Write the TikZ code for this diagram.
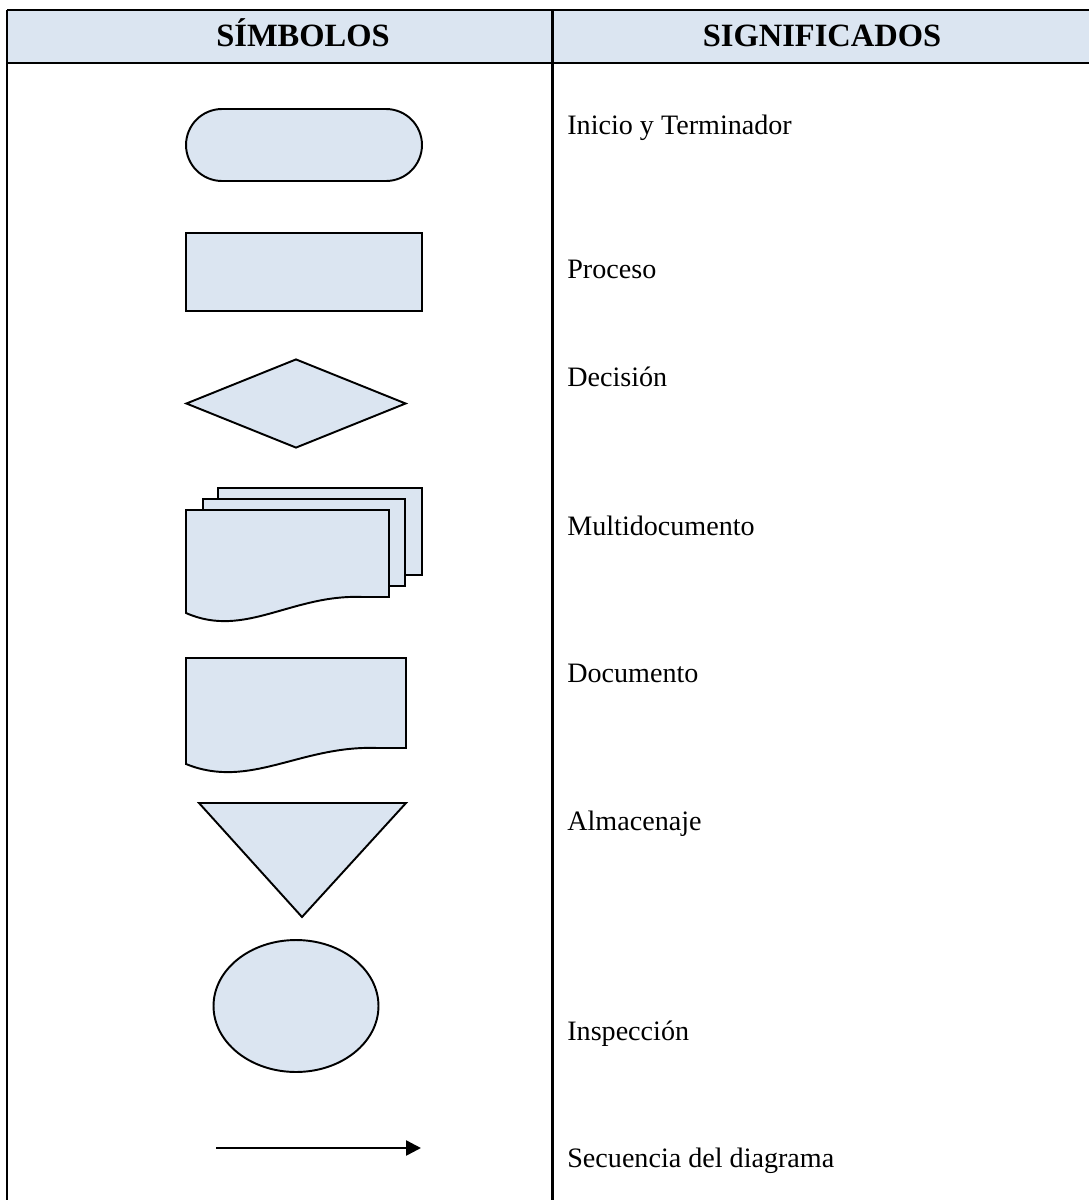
\documentclass[tikz,border=0pt]{standalone}
\usepackage{fontspec}
\setmainfont{Liberation Serif}
\usepackage{xcolor}
\usetikzlibrary{shapes.geometric, arrows.meta}
\definecolor{cellblue}{HTML}{DBE5F1}
\tikzstyle{gridline} = [line width=1.7pt]
\tikzstyle{symbol} = [draw=black, fill=cellblue, line width=1.1pt, inner sep=0pt]
\tikzstyle{terminal} = [symbol, rectangle, rounded corners=0.72cm, minimum width=4.72cm, minimum height=1.44cm]
\tikzstyle{process} = [symbol, rectangle, minimum width=4.72cm, minimum height=1.56cm]
\tikzstyle{decision} = [symbol, diamond, minimum width=4.4cm, minimum height=1.78cm]
\tikzstyle{inspection} = [symbol, ellipse, minimum width=3.3cm, minimum height=2.64cm]
\tikzstyle{arrow} = [line width=1.4pt, -{Triangle[length=0.3cm,width=0.3cm]}]
\tikzstyle{header} = [anchor=base, inner sep=0pt, font=\fontsize{18.5}{22}\selectfont\bfseries]
\tikzstyle{meaning} = [anchor=base west, inner sep=0pt, font=\fontsize{16}{19}\selectfont]
% document symbol: x, y of top left corner, width, height of right side
\newcommand{\docshape}[4]{\draw[symbol] (#1,#2) -- ({#1+#3},#2) -- ({#1+#3},{#2+#4}) -- ({#1+0.87*#3},{#2+#4}) .. controls ({#1+0.52*#3},{#2+#4-3}) and ({#1+0.29*#3},{#2+#4+42}) .. (#1,{#2+#4+16}) -- cycle;}

\begin{document}
\begin{tikzpicture}[x=0.02cm, y=-0.02cm]
		\useasboundingbox (0,0) rectangle (1089,1200);
		% table
		\fill[cellblue] (7,10) rectangle (1089,63);
		\draw[gridline] (7,10) -- (1089,10);
		\draw[gridline] (7,63) -- (1089,63);
		\draw[gridline] (7,10) -- (7,1200);
		\draw[gridline] (552,10) -- (552,1200);
		\node (colsym) [header] at (303,46) {SÍMBOLOS};
		\node (colmean) [header] at (822,46) {SIGNIFICADOS};
		% symbols
		\node (term) [terminal] at (304,145) {};
		\node (proc) [process] at (304,272) {};
		\node (dec) [decision] at (296,403.5) {};
		\draw[symbol] (218,488) rectangle (422,575);
		\draw[symbol] (203,499) rectangle (405,586);
		\docshape{186}{510}{203}{87}
		\docshape{186}{658}{220}{90}
		\draw[symbol] (199,803) -- (406,803) -- (302,917) -- cycle;
		\node (insp) [inspection] at (296,1006) {};
		\coordinate (seqtail) at (216,1148);
		\coordinate (seqhead) at (421,1148);
		\draw[arrow] (seqtail) -- (seqhead);
		% meanings
		\node (mterm) [meaning] at (567,134) {Inicio y Terminador};
		\node (mproc) [meaning] at (567,278) {Proceso};
		\node (mdec) [meaning] at (567,386) {Decisión};
		\node (mmulti) [meaning] at (567,535) {Multidocumento};
		\node (mdoc) [meaning] at (567,682) {Documento};
		\node (mstore) [meaning] at (567,830) {Almacenaje};
		\node (minsp) [meaning] at (567,1040) {Inspección};
		\node (mseq) [meaning] at (567,1167) {Secuencia del diagrama};
	\end{tikzpicture}
\end{document}
